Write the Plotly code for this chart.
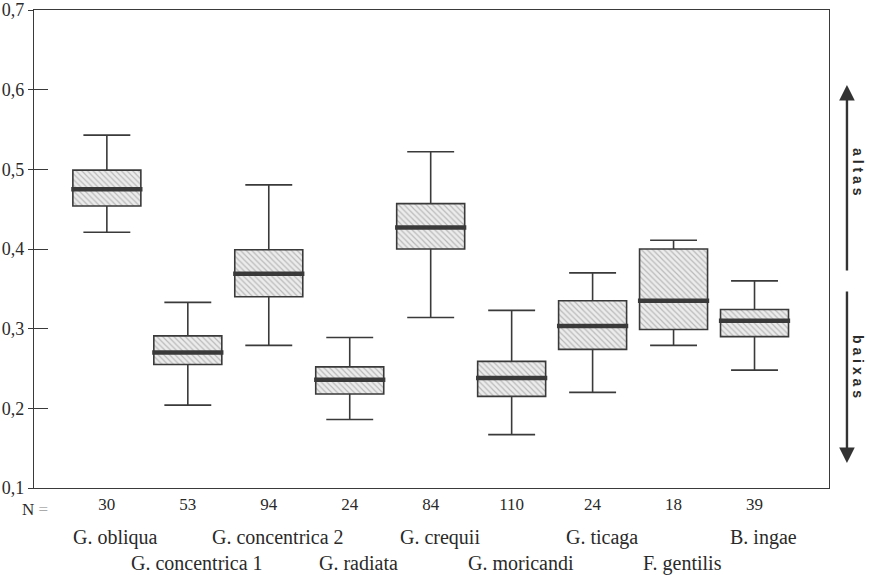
import plotly.graph_objects as go

species = ["G. obliqua", "G. concentrica 1", "G. concentrica 2", "G. radiata",
           "G. crequii", "G. moricandi", "G. ticaga", "F. gentilis", "B. ingae"]
n_values = [30, 53, 94, 24, 84, 110, 24, 18, 39]
lower_whisker = [0.421, 0.204, 0.279, 0.186, 0.314, 0.167, 0.220, 0.279, 0.248]
q1_values = [0.454, 0.255, 0.340, 0.218, 0.400, 0.215, 0.274, 0.299, 0.290]
median_values = [0.475, 0.270, 0.369, 0.236, 0.427, 0.238, 0.3035, 0.335, 0.310]
q3_values = [0.499, 0.291, 0.399, 0.252, 0.457, 0.259, 0.335, 0.400, 0.324]
upper_whisker = [0.543, 0.333, 0.4805, 0.289, 0.522, 0.323, 0.370, 0.411, 0.360]
y_tick_values = [0.1, 0.2, 0.3, 0.4, 0.5, 0.6, 0.7]

INK = "#3a3a3a"
TXT = "#2a2a2a"
BOX_W = 0.84
xs = list(range(len(species)))

fig = go.Figure()

# hatched box fill
fig.add_trace(go.Bar(
    x=xs, y=[q3 - q1 for q1, q3 in zip(q1_values, q3_values)], base=q1_values,
    width=BOX_W,
    marker=dict(color="#eeeeee", line=dict(width=0),
                pattern=dict(shape="\\", fgcolor="#858585", bgcolor="#ececec",
                             size=4, solidity=0.3)),
    showlegend=False, hoverinfo="skip"))

# box outlines and whiskers
fig.add_trace(go.Box(
    x=xs, q1=q1_values, median=median_values, q3=q3_values,
    lowerfence=lower_whisker, upperfence=upper_whisker,
    width=BOX_W, whiskerwidth=0.69,
    fillcolor="rgba(0,0,0,0)", line=dict(color=INK, width=1.6),
    showlegend=False, boxpoints=False))

# thick median lines
mx, my = [], []
for i, m in zip(xs, median_values):
    mx += [i - BOX_W / 2 - 0.02, i + BOX_W / 2 + 0.02, None]
    my += [m, m, None]
fig.add_trace(go.Scatter(x=mx, y=my, mode="lines",
                         line=dict(color=INK, width=4.5),
                         showlegend=False, hoverinfo="skip"))

annotations = []
# species names in two staggered rows
for i, name in enumerate(species):
    annotations.append(dict(
        x=i, y=0, xref="x", yref="paper", text=name, showarrow=False,
        xanchor="center", yanchor="middle", xshift=9,
        yshift=-49 if i % 2 == 0 else -75,
        font=dict(family="Liberation Serif", size=20, color=TXT)))

annotations.append(dict(
    x=0, y=0, xref="paper", yref="paper", text="N <span style='color:#aaaaaa'>=</span>",
    showarrow=False, xanchor="right", yanchor="middle", xshift=16, yshift=-21,
    font=dict(family="Liberation Serif", size=17, color=TXT)))

# right-side arrows
arrow_x = 1.0226
annotations.append(dict(
    x=arrow_x, y=(488 - 85) / 478, ax=0, ay=187,
    xref="paper", yref="paper", axref="pixel", ayref="pixel",
    showarrow=True, arrowhead=2, arrowsize=1.3, arrowwidth=2.4,
    arrowcolor="#333333", text=""))
annotations.append(dict(
    x=arrow_x, y=(488 - 463) / 478, ax=0, ay=-173,
    xref="paper", yref="paper", axref="pixel", ayref="pixel",
    showarrow=True, arrowhead=2, arrowsize=1.3, arrowwidth=2.4,
    arrowcolor="#333333", text=""))
annotations.append(dict(
    x=1.0365, y=(488 - 172) / 478, xref="paper", yref="paper",
    text="<b>a l t a s</b>", showarrow=False, textangle=90,
    xanchor="center", yanchor="middle",
    font=dict(family="Liberation Sans", size=14, color=TXT)))
annotations.append(dict(
    x=1.0365, y=(488 - 366) / 478, xref="paper", yref="paper",
    text="<b>b a i x a s</b>", showarrow=False, textangle=90,
    xanchor="center", yanchor="middle",
    font=dict(family="Liberation Sans", size=14, color=TXT)))

fig.update_layout(
    width=871, height=575,
    margin=dict(l=34, r=42, t=10, b=87, autoexpand=False),
    paper_bgcolor="white", plot_bgcolor="white",
    separators=",.",
    bargap=0, boxmode="overlay", barmode="overlay",
    annotations=annotations,
    xaxis=dict(range=[-0.9, 8.92], tickmode="array", tickvals=xs,
               ticktext=[str(n) for n in n_values], ticks="", automargin=False,
               showgrid=False, zeroline=False, showline=True,
               linecolor=INK, linewidth=1.2, mirror=True,
               tickfont=dict(family="Liberation Serif", size=17, color=TXT)),
    yaxis=dict(range=[0.1, 0.7], tickmode="array", tickvals=y_tick_values,
               tickformat=".1f", ticks="outside", ticklen=5, tickwidth=1.2,
               tickcolor=INK, showgrid=False, zeroline=False, showline=True,
               linecolor=INK, linewidth=1.2, mirror=True, automargin=False,
               tickfont=dict(family="Liberation Serif", size=18, color=TXT)),
    yaxis2=dict(range=[0.1, 0.7], overlaying="y", side="left", automargin=False,
                tickmode="array", tickvals=y_tick_values, showticklabels=False,
                ticks="inside", ticklen=14, tickwidth=1.2, tickcolor=INK,
                showgrid=False, zeroline=False, showline=False),
)
# an invisible trace to activate yaxis2
fig.add_trace(go.Scatter(x=[None], y=[None], yaxis="y2", showlegend=False,
                         hoverinfo="skip"))

fig.write_html("out.html", config={"displayModeBar": False},
               post_script="document.body.style.margin='0';document.body.style.overflow='hidden';")
